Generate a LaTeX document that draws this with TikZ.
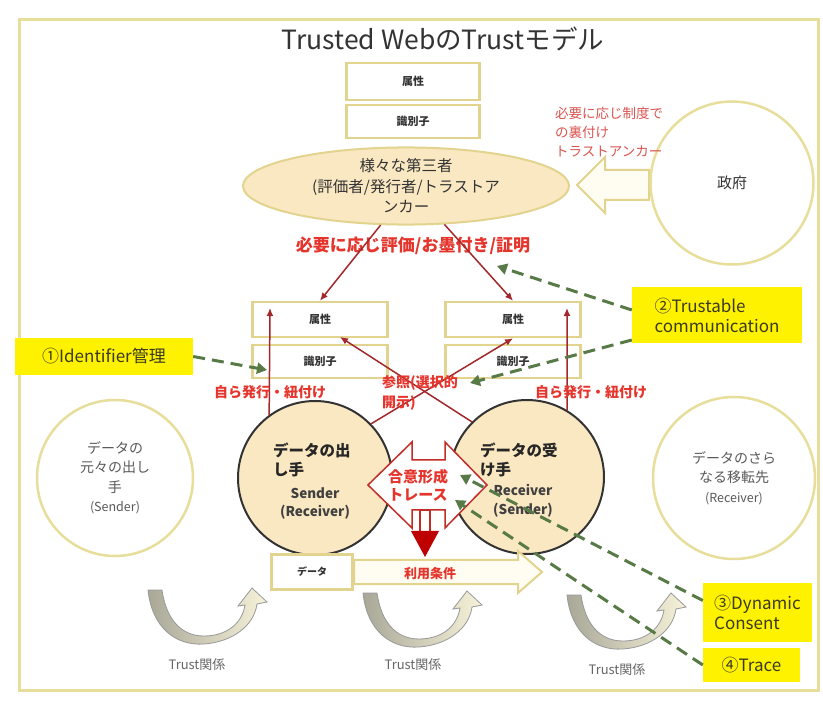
\documentclass[tikz,border=0pt]{standalone}
\usepackage{fontspec}
\setmainfont{Noto Sans CJK JP}
\usetikzlibrary{shapes.geometric,arrows.meta,calc}
\definecolor{khaki}{HTML}{E2D48E}
\definecolor{framec}{HTML}{E8DE9C}
\definecolor{tanc}{HTML}{FAE8C2}
\definecolor{rtext}{HTML}{E5342C}
\definecolor{rsoft}{HTML}{D9544F}
\definecolor{darr}{HTML}{A3282B}
\definecolor{dgreen}{HTML}{587A46}
\definecolor{hl}{HTML}{FFF200}
\definecolor{txt}{HTML}{333333}
\definecolor{olivetxt}{HTML}{3A3A22}
\definecolor{creamc}{HTML}{FFFDF2}
\definecolor{grayband}{HTML}{A9A797}
\definecolor{creamband}{HTML}{F7F3DA}
\tikzset{
  trustarr/.pic={
    \draw[draw=black!40, line width=0.8pt, left color=grayband, right color=creamband]
      (0,2) .. controls (4,40) and (28,58) .. (56,56)
      .. controls (84,54) and (106,38) .. (109,16)
      -- (119,14) -- (104,0) -- (90,18) -- (97,17)
      .. controls (94,36) and (78,48) .. (56,48)
      .. controls (32,48) and (18,30) .. (14,2) -- cycle;
  }
}
\begin{document}
\begin{tikzpicture}[x=1pt,y=-1pt,
  every node/.style={inner sep=0pt, text=txt},
  attr/.style={draw=khaki, line width=2.5pt, fill=white, minimum width=135pt, minimum height=34pt, font=\fontsize{11}{12}\selectfont\bfseries},
  outerc/.style={circle, draw=framec, line width=2.5pt, fill=white, text=black!65, align=center, font=\fontsize{14}{19.5}\selectfont},
  mainc/.style={circle, draw=black!80, line width=2pt, fill=tanc, minimum size=154pt},
  hlbox/.style={fill=hl, text=olivetxt, align=left, font=\fontsize{17}{20}\selectfont},
  gdash/.style={draw=dgreen, line width=3pt, dash pattern=on 12pt off 7pt, -{Triangle[length=10pt,width=11pt]}},
  rarr/.style={draw=darr, line width=1.5pt, -{Latex[length=8pt,width=7pt]}},
  rlab/.style={text=rtext, font=\fontsize{14}{20}\selectfont\bfseries},
  blockarr/.style={draw=khaki, line width=2pt, fill=creamc},
  ctext/.style={text=black!85, font=\fontsize{15.5}{15.5}\selectfont\bfseries},
  stext/.style={text=black!75, font=\fontsize{13.5}{13.5}\selectfont\bfseries},
  trusttxt/.style={text=black!60, font=\fontsize{13}{13}\selectfont},
]
\useasboundingbox (0,0) rectangle (823,711);
\fill[white] (0,0) rectangle (823,711);
\draw[framec, line width=3pt] (19,20) rectangle (818,690);

% title
\node[font=\fontsize{26.5}{26.5}\selectfont] (title) at (443,39) {Trusted WebのTrustモデル};

% top boxes and third parties
\node[attr, minimum width=133pt, minimum height=37pt] (TA) at (413,81.5) {属性};
\node[attr, minimum width=133pt, minimum height=33pt] (TI) at (413,121.5) {識別子};
\node[ellipse, draw=khaki, line width=2pt, fill=tanc, minimum width=326pt, minimum height=74pt,
      align=center, font=\fontsize{15.5}{20.5}\selectfont] (E) at (406,186)
      {様々な第三者\\(評価者/発行者/トラストア\\ンカー};

% government
\draw[blockarr] (649,170) -- (605,170) -- (605,157) -- (577,185) -- (605,213) -- (605,200) -- (649,200) -- cycle;
\node[circle, draw=framec, line width=2.5pt, fill=white, minimum size=163pt, font=\fontsize{15}{15}\selectfont] (G) at (732,183) {政府};
\node[anchor=west, text=rsoft, align=left, font=\fontsize{13.5}{19}\selectfont] (anno) at (555,132)
      {必要に応じ制度で\\の裏付け\\トラストアンカー};

\node[rlab, font=\fontsize{17}{17}\selectfont\bfseries] (lab1) at (413,246) {必要に応じ評価/お墨付き/証明};

% attribute boxes
\node[attr, minimum height=35pt] (LA) at (320,319.5) {属性};
\node[attr, minimum height=33pt] (LI) at (320,361.5) {識別子};
\node[attr, minimum height=35pt] (RA) at (513,319.5) {属性};
\node[attr, minimum height=33pt] (RI) at (513,361.5) {識別子};

% side circles
\node[outerc, minimum size=156pt] (SL) at (115,478) {データの\\元々の出し\\手\\{\fontsize{12.5}{12.5}\selectfont (Sender)}};
\node[outerc, minimum size=162pt] (SR) at (734,478) {データのさら\\なる移転先\\{\fontsize{12.5}{12.5}\selectfont (Receiver)}};

% main circles
\node[mainc] (L) at (315,478) {};
\node[mainc] (R) at (527,477) {};
\node[ctext, anchor=west] (Lt1) at (273,450) {データの出};
\node[ctext, anchor=west] (Lt2) at (273,470) {し手};
\node[stext] (Lt3) at (315,493) {Sender};
\node[stext] (Lt4) at (315,512) {(Receiver)};
\node[ctext, anchor=west] (Rt1) at (480,450) {データの受};
\node[ctext, anchor=west] (Rt2) at (480,470) {け手};
\node[stext] (Rt3) at (523,490) {Receiver};
\node[stext] (Rt4) at (523,510) {(Sender)};

% red arrows
\draw[rarr] (E.237) -- (LA.north);
\draw[rarr] (E.315) -- (RA.north);
\coordinate (lvt) at (270,308);
\coordinate (rvt) at (567,308);
\draw[rarr] (L.126) -- (lvt);
\draw[rarr] (R.59) -- (rvt);
\coordinate (lab) at (340,337);
\draw[rarr] (L.44) -- (RA.south);
\draw[rarr] (R.135) -- (lab);

\node[rlab] (self1) at (270,392) {自ら発行・紐付け};
\node[rlab] (self2) at (591,392) {自ら発行・紐付け};
\node[rlab, anchor=west, align=left] (ref) at (382,393) {参照(選択的\\開示)};

% four-way arrow
\draw[draw=rtext!85!black, line width=1.5pt, fill=white]
  (368,485) -- (412,442) -- (412,460) -- (445,460) -- (445,442) -- (487,485)
  -- (445,528) -- (445,510) -- (412,510) -- (412,528) -- cycle;
\draw[draw=rtext!85!black, line width=1.2pt, fill=white] (420,510) rectangle (430,532);
\fill[red!75!black] (411,531) -- (439,531) -- (425,557) -- cycle;
\node[rlab, font=\fontsize{15}{15}\selectfont\bfseries] (agree) at (418,477) {合意形成};
\node[rlab, font=\fontsize{15}{15}\selectfont\bfseries] (trace) at (418,495) {トレース};

% data and usage conditions
\draw[blockarr] (354,560) -- (518,560) -- (518,551) -- (542,572) -- (518,593) -- (518,584) -- (354,584) -- cycle;
\node[attr, minimum width=81pt, minimum height=35pt, font=\fontsize{10}{10}\selectfont\bfseries] (DB) at (312,572) {データ};
\node[rlab, font=\fontsize{13}{13}\selectfont\bfseries] (use) at (430,574) {利用条件};

% trust relations
\pic at (148,588) {trustarr};
\pic at (363,591) {trustarr};
\pic at (567,593) {trustarr};
\node[trusttxt] (tr1) at (197,665) {Trust関係};
\node[trusttxt] (tr2) at (413,665) {Trust関係};
\node[trusttxt] (tr3) at (617,670) {Trust関係};

% highlight boxes
\node[hlbox, minimum width=178pt, minimum height=37pt] (I) at (104,356.5) {①Identifier管理};
\node[hlbox, minimum width=170pt, minimum height=56pt] (T) at (717,315) {②Trustable\\communication};
\node[hlbox, minimum width=109pt, minimum height=59pt] (D) at (757.5,612.5) {③Dynamic\\Consent};
\node[hlbox, minimum width=97pt, minimum height=34pt] (Tr) at (751.5,665) {④Trace};

% green dashed connectors
\coordinate (g1) at (267,370);
\coordinate (g2) at (497,266);
\coordinate (g3) at (470,383);
\coordinate (g4) at (460,475);
\coordinate (g5) at (455,500);
\draw[gdash] (I.east) -- (g1);
\draw[gdash] ($(T.west)+(0,-5)$) -- (g2);
\draw[gdash] ($(T.west)+(0,25)$) -- (g3);
\draw[gdash] ($(D.west)+(0,-12)$) -- (g4);
\draw[gdash] (Tr.west) -- (g5);
\end{tikzpicture}
\end{document}
